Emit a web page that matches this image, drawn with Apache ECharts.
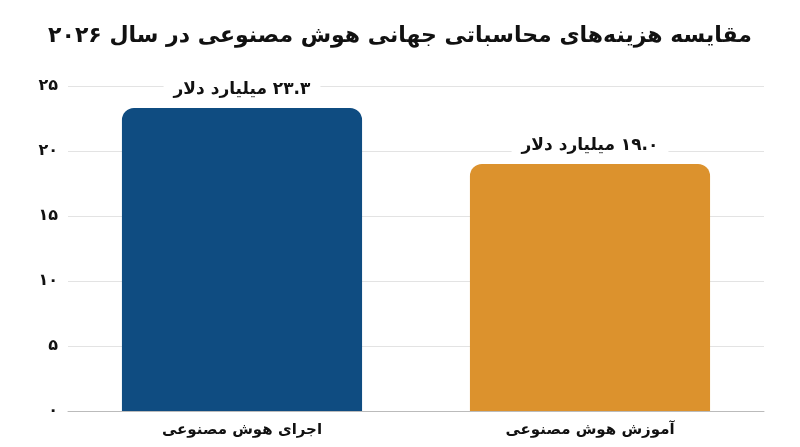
<!DOCTYPE html>
<html>
<head>
<meta charset="utf-8">
<script src="https://cdn.jsdelivr.net/npm/echarts@6/dist/echarts.min.js"></script>
<style>
html,body{margin:0;padding:0;background:#fff;}
#chart{width:800px;height:447px;}
</style>
</head>
<body>
<div id="chart" dir="rtl"></div>
<script>
const titleText = 'مقایسه هزینه‌های محاسباتی جهانی هوش مصنوعی در سال ۲۰۲۶';
const categories = ['اجرای هوش مصنوعی', 'آموزش هوش مصنوعی'];
const values = [23.3, 19.0];
const valueLabels = ['۲۳.۳ میلیارد دلار', '۱۹.۰ میلیارد دلار'];
const barColors = ['#0F4C81', '#DC922D'];
const yTicks = {0:'۰',5:'۵',10:'۱۰',15:'۱۵',20:'۲۰',25:'۲۵'};

const font = '"DejaVu Sans", "Noto Sans", sans-serif';
const chart = echarts.init(document.getElementById('chart'));
chart.setOption({
  animation: false,
  title: {
    text: titleText,
    left: 'center',
    top: 20,
    textStyle: {fontFamily: font, fontSize: 22, fontWeight: 'bold', color: '#111'}
  },
  grid: {left: 68, right: 36, top: 86, bottom: 36},
  xAxis: {
    type: 'category',
    data: categories,
    axisTick: {show: false},
    axisLine: {lineStyle: {color: '#bbbbbb'}},
    axisLabel: {fontFamily: font, fontSize: 15, fontWeight: 'bold', color: '#111', margin: 12}
  },
  yAxis: {
    type: 'value',
    min: 0, max: 25, interval: 5,
    axisLine: {show: false},
    axisTick: {show: false},
    splitLine: {lineStyle: {color: '#e3e3e3'}},
    axisLabel: {
      fontFamily: font, fontSize: 16, fontWeight: 'bold', color: '#111', margin: 10,
      formatter: v => yTicks[v] !== undefined ? yTicks[v] : String(v)
    }
  },
  series: [{
    type: 'bar',
    barWidth: '69%',
    data: values.map((v, i) => ({
      value: v,
      itemStyle: {color: barColors[i], borderRadius: [12, 12, 0, 0]},
      label: {formatter: valueLabels[i]}
    })),
    label: {
      show: true,
      position: 'top',
      distance: 8,
      fontFamily: font, fontSize: 17, fontWeight: 'bold', color: '#111',
      backgroundColor: '#fff',
      padding: [2, 10]
    }
  }]
});
</script>
</body>
</html>
